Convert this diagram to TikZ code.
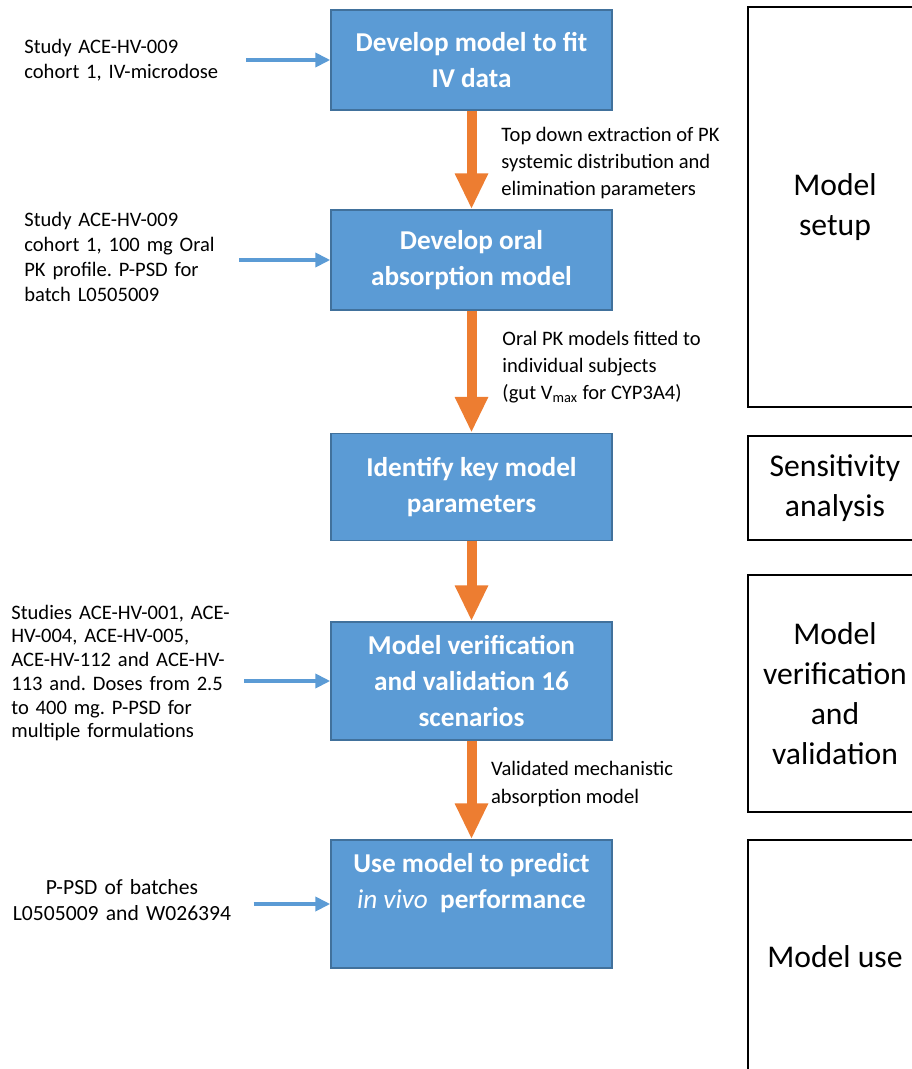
\documentclass[tikz,border=0pt]{standalone}
\usepackage{fontspec}
\setmainfont{Carlito}
\usetikzlibrary{arrows.meta}
\definecolor{stepblue}{HTML}{5B9BD5}
\definecolor{stepedge}{HTML}{41719C}
\definecolor{floworange}{HTML}{ED7D31}
\frenchspacing

\begin{document}
\begin{tikzpicture}[x=0.02cm,y=-0.02cm,
    stage/.style={draw=stepedge,line width=0.03cm,fill=stepblue,text=white,align=center,
        font=\fontsize{15.5}{20.5}\selectfont\bfseries,minimum width=5.62cm},
    source/.style={font=\fontsize{11.7}{14.2}\selectfont,text width=4.45cm,inner sep=0pt},
    note/.style={font=\fontsize{11.7}{15.4}\selectfont,align=left,anchor=west,inner sep=0pt},
    phase/.style={draw,line width=0.03cm,font=\fontsize{18}{22.8}\selectfont,align=center,minimum width=3.48cm},
    flow/.style={draw=floworange,line width=0.2cm,-{Triangle[width=0.62cm,length=0.72cm]}},
    feed/.style={draw=stepblue,line width=0.08cm,-{Triangle[width=0.28cm,length=0.3cm]}}]
    % Frame
    \useasboundingbox (0,0) rectangle (912,1069);
    \clip (0,0) rectangle (912,1069);
    % Workflow steps
    \node[stage,minimum height=2cm]    (fitIV)    at (471.5,60)  {Develop model to fit\\IV data};
    \node[stage,minimum height=2cm]    (oral)     at (471.5,260) {Develop oral\\absorption model};
    \node[stage,minimum height=2.14cm] (identify) at (471.5,487) {Identify key model\\parameters};
    \node[stage,minimum height=2.36cm] (verify)   at (471.5,681) {Model verification\\and validation 16\\scenarios};
    \node[stage,minimum height=2.56cm] (predict)  at (471.5,904) {Use model to predict\\\textmd{\textit{in vivo}}~ performance\\\strut};
    % Input data
    \node[source,align=left,anchor=west] (studyIV)   at (24,60)  {Study ACE-HV-009\\cohort 1, IV-microdose};
    \node[source,align=left,anchor=west] (studyOral) at (24,257) {Study ACE-HV-009\\cohort 1, 100 mg Oral\\PK profile. P-PSD for\\batch L0505009};
    \node[source,align=left,anchor=west,text width=4.65cm,font=\fontsize{11.7}{13.5}\selectfont] (studies) at (11,673)
        {Studies ACE-HV-001, ACE-\\HV-004, ACE-HV-005,\\ACE-HV-112 and ACE-HV-\\113 and. Doses from 2.5\\to 400 mg. P-PSD for\\multiple formulations};
    \node[source,align=center,font=\fontsize{12.3}{14.6}\selectfont] (batches) at (122,900) {P-PSD of batches\\L0505009 and W026394};
    \draw[feed,shorten <=-0.02cm] (studyIV.east |- fitIV.west) -- (fitIV.west);
    \draw[feed,shorten <=-0.16cm] (studyOral.east |- oral.west) -- (oral.west);
    \draw[feed] (studies.east |- verify.west) -- (verify.west);
    \draw[feed,shorten <=0.4cm] (batches.east |- predict.west) -- (predict.west);
    % Flow between steps
    \draw[flow] (fitIV) -- (oral)
        node[note,midway,xshift=0.5cm,yshift=-0.06cm] {Top down extraction of PK\\systemic distribution and\\elimination parameters};
    \draw[flow] (oral) -- (identify)
        node[note,midway,xshift=0.52cm,yshift=0.1cm] {Oral PK models fitted to\\individual subjects\\(gut V\textsubscript{max} for CYP3A4)};
    \draw[flow] (identify) -- (verify);
    \draw[flow] (verify) -- (predict)
        node[note,midway,xshift=0.29cm,yshift=0.12cm] {Validated mechanistic\\absorption model};
    % Phases
    \node[phase,minimum height=8cm]    (setup)  at (835,207)   {Model\\setup};
    \node[phase,minimum height=2.08cm] (sens)   at (835,488)   {Sensitivity\\analysis};
    \node[phase,minimum height=4.74cm] (valid)  at (835,693.5) {Model\\verification\\and\\validation};
    \node[phase,minimum height=4.68cm] (use)    at (835,957)   {Model use};
\end{tikzpicture}
\end{document}
